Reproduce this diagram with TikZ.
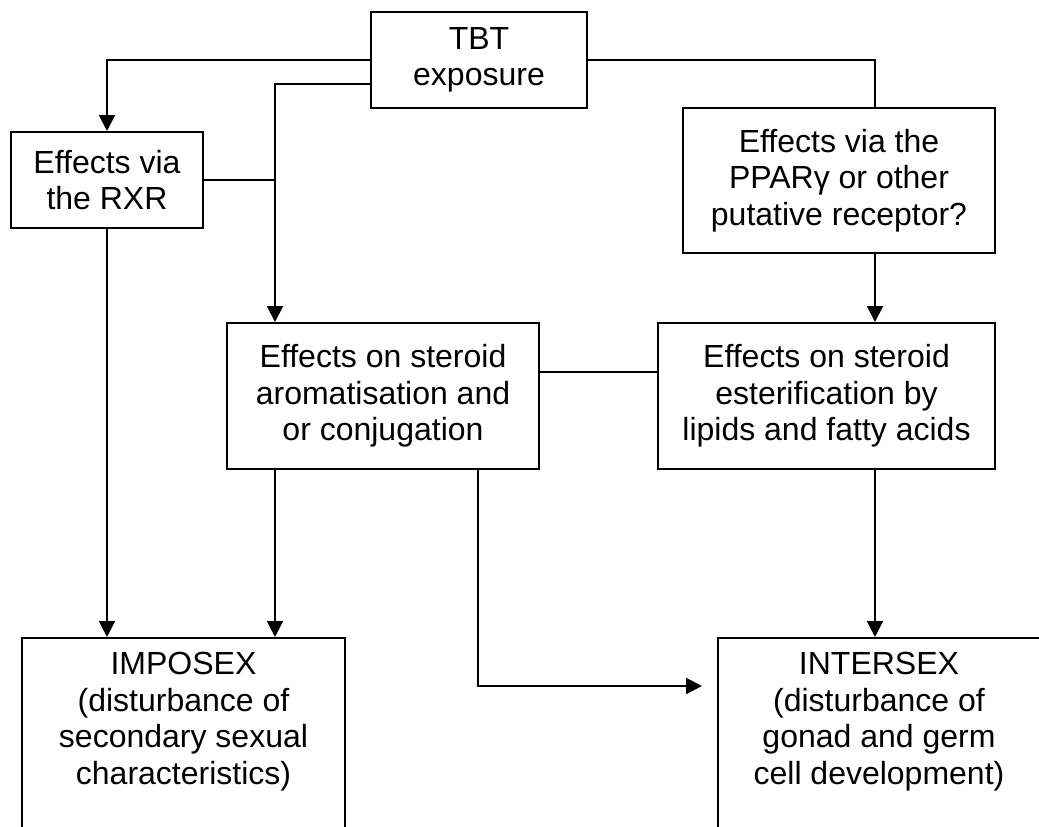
\documentclass[tikz,border=0pt]{standalone}
\usepackage{fontspec}
\setmainfont{Liberation Sans}
\usetikzlibrary{arrows.meta}
\begin{document}
\begin{tikzpicture}[x=1pt,y=1pt,
  every node/.style={font=\fontsize{32}{36.5}\selectfont, inner sep=0pt},
  box/.style={draw, line width=2pt, align=center},
  conn/.style={line width=2pt},
  arr/.style={conn, -{Triangle[width=16pt,length=16pt]}}]
\useasboundingbox (0,0) rectangle (1039,-827);
% boxes
\node[box, minimum width=216, minimum height=96] (tbt) at (479,-60) {TBT\\exposure};
\node[box, minimum width=192, minimum height=96] (rxr) at (107,-180) {Effects via\\the RXR};
\node[box, minimum width=312, minimum height=145] (ppar) at (839,-180.5) {Effects via the\\PPARγ or other\\putative receptor?};
\node[box, minimum width=312, minimum height=146] (arom) at (383,-396) {Effects on steroid\\aromatisation and\\or conjugation};
\node[box, minimum width=337, minimum height=146] (ester) at (826.5,-396) {Effects on steroid\\esterification by\\lipids and fatty acids};
\node[box, minimum width=323, minimum height=260, anchor=north] (imp) at (183.5,-637) {};
\node[box, minimum width=322, minimum height=260, anchor=north] (int) at (879,-637) {};
\node[align=center, anchor=north] (impt) at (183.5,-652) {IMPOSEX\\(disturbance of\\secondary sexual\\characteristics)};
\node[align=center, anchor=north] (intt) at (879,-652) {INTERSEX\\(disturbance of\\gonad and germ\\cell development)};
% helper coordinates
\coordinate (j1) at (275,-84);
\coordinate (j2) at (478,-686);
% connectors
\draw[arr] (tbt.west) -| (rxr.north);
\draw[arr] (tbt.west |- j1) -| (arom.north west -| j1);
\draw[conn] (rxr.east) -- (rxr.east -| j1);
\draw[conn] (tbt.east) -| ([xshift=36]ppar.north);
\draw[arr] ([xshift=36]ppar.south) -- ([xshift=36]ppar.south |- ester.north);
\draw[conn] ([yshift=24]arom.east) -- ([yshift=24]ester.west);
\draw[arr] (rxr.south) -- (rxr.south |- imp.north);
\draw[arr] (arom.south west -| j1) -- (j1 |- imp.north);
\draw[arr, shorten >=15pt] (arom.south -| j2) |- (int.west |- j2);
\draw[arr] ([xshift=48.5]ester.south) -- ([xshift=48.5]ester.south |- int.north);
\end{tikzpicture}
\end{document}
